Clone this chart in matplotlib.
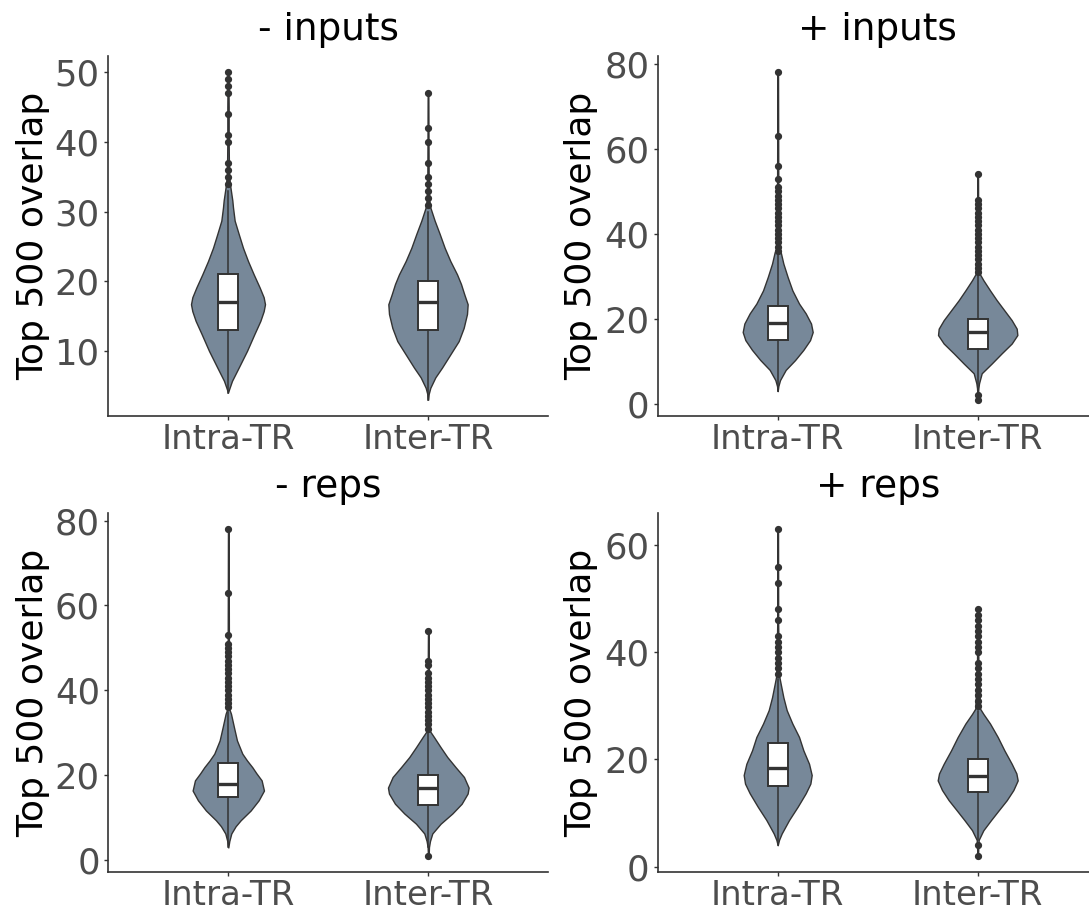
import numpy as np
import matplotlib
matplotlib.use("Agg")
import matplotlib.pyplot as plt

# ---------------- data ----------------
categories = ["Intra-TR", "Inter-TR"]
panel_titles = ["- inputs", "+ inputs", "- reps", "+ reps"]
ylabel = "Top 500 overlap"
yticks = [[10, 20, 30, 40, 50], [0, 20, 40, 60, 80], [0, 20, 40, 60, 80], [0, 20, 40, 60]]

# violin density profiles (y levels, relative density) per panel / category
p1_intra_y = [4, 4.6, 5.7, 7.6, 10, 12.4, 14.3, 15.7, 16.7, 17.7, 19.1, 21.0, 22.9, 24.8, 26.8, 28.7, 30.6, 31.6, 33.9, 35.4, 40, 45, 50]
p1_intra_d = [0, 4, 12, 32, 57, 79, 97, 107, 111, 107, 95, 77, 60, 45, 32, 20, 15, 13, 6, 3, 2, 2, 1]
p1_inter_y = [3, 3.8, 4.7, 6.2, 7.6, 9.5, 11.4, 13.3, 15.3, 16.7, 18.1, 19.6, 21.0, 22.9, 24.8, 26.8, 28.7, 30.6, 31.6, 34, 40, 47]
p1_inter_d = [0.5, 2, 7, 22, 42, 67, 92, 107, 117, 119, 109, 99, 87, 67, 50, 35, 20, 7, 4, 2, 1.5, 1]

p2_intra_y = [3, 4.2, 5.6, 8.0, 10.3, 12.7, 15.0, 16.9, 18.9, 21.3, 23.6, 26.7, 29.8, 33.0, 35.7, 36.5, 45, 60, 78]
p2_intra_d = [0, 2, 7, 24, 52, 77, 97, 105, 100, 84, 64, 44, 30, 17, 9, 4, 2, 1.5, 1]
p2_inter_y = [1, 3, 3.7, 4.85, 7.2, 9.5, 11.9, 14.2, 16.2, 17.7, 19.7, 22.0, 24.4, 26.7, 29.1, 30.6, 40, 54]
p2_inter_d = [1, 1.5, 2, 4, 12, 42, 72, 102, 119, 117, 102, 80, 57, 37, 17, 6, 1.5, 1]

p3_intra_y = [3, 4.5, 6.3, 8.0, 9.4, 11.7, 14.1, 16.4, 18.8, 20.5, 21.9, 23.5, 25.1, 28.2, 31.3, 34.5, 35.6, 45, 60, 78]
p3_intra_d = [0, 3, 9, 22, 37, 67, 91, 107, 100, 84, 72, 56, 42, 26, 17, 8, 3, 2, 1.5, 1]
p3_inter_y = [1, 3.1, 4.5, 6.3, 8.6, 11.0, 13.3, 15.7, 17.1, 19.6, 21.9, 24.3, 26.6, 29.0, 30.4, 40, 54]
p3_inter_d = [1, 2, 5, 12, 37, 72, 100, 118, 121, 107, 82, 57, 37, 17, 5, 2, 1]

p4_intra_y = [4, 5.0, 6.2, 8.7, 11.2, 13.7, 15.5, 17.1, 19.2, 21.7, 24.2, 26.7, 29.2, 31.6, 34.1, 35.7, 45, 63]
p4_intra_d = [0, 4, 12, 34, 60, 84, 98, 102, 94, 77, 64, 44, 27, 17, 9, 4, 1.5, 1]
p4_inter_y = [2, 4, 5.0, 6.8, 8.7, 10.6, 12.4, 14.3, 16.1, 17.4, 19.2, 21.7, 24.2, 26.7, 28.5, 29.5, 38, 48]
p4_inter_d = [1, 2, 3, 17, 40, 64, 87, 107, 120, 116, 102, 80, 60, 37, 17, 7, 2, 1]

# box statistics: q1, median, q3, lower whisker, upper whisker
p1_intra_box = [13, 17, 21, 4, 33]
p1_inter_box = [13, 17, 20, 3, 30]
p2_intra_box = [15, 19, 23, 3, 35]
p2_inter_box = [13, 17, 20, 3, 30]
p3_intra_box = [15, 18, 23, 3, 35]
p3_inter_box = [13, 17, 20, 3, 30]
p4_intra_box = [15, 18.5, 23, 4, 35]
p4_inter_box = [14, 17, 20, 5, 29]

# outliers
p1_intra_out = [34, 35, 36, 37, 40, 41, 44, 47, 48, 49, 50]
p1_inter_out = [31, 32, 33, 34, 35, 37, 40, 42, 47]
p2_intra_out = [36, 37, 38, 39, 40, 41, 42, 43, 44, 45, 46, 47, 48, 49, 50, 51, 53, 56, 63, 78]
p2_inter_out = [1, 2, 31, 32, 33, 34, 35, 36, 37, 38, 39, 40, 41, 42, 43, 44, 45, 46, 47, 48, 54]
p3_intra_out = [36, 37, 38, 39, 40, 41, 42, 43, 44, 45, 46, 47, 48, 49, 50, 51, 53, 63, 78]
p3_inter_out = [1, 31, 32, 33, 34, 35, 36, 37, 38, 39, 40, 41, 42, 43, 44, 46, 47, 54]
p4_intra_out = [36, 37, 38, 39, 40, 41, 42, 43, 46, 48, 53, 56, 63]
p4_inter_out = [2, 4, 30, 31, 32, 33, 34, 35, 36, 37, 38, 40, 41, 42, 43, 44, 45, 46, 47, 48]

panels = [
    [(p1_intra_y, p1_intra_d, p1_intra_box, p1_intra_out), (p1_inter_y, p1_inter_d, p1_inter_box, p1_inter_out)],
    [(p2_intra_y, p2_intra_d, p2_intra_box, p2_intra_out), (p2_inter_y, p2_inter_d, p2_inter_box, p2_inter_out)],
    [(p3_intra_y, p3_intra_d, p3_intra_box, p3_intra_out), (p3_inter_y, p3_inter_d, p3_inter_box, p3_inter_out)],
    [(p4_intra_y, p4_intra_d, p4_intra_box, p4_intra_out), (p4_inter_y, p4_inter_d, p4_inter_box, p4_inter_out)],
]

# ---------------- styling / layout ----------------
W, H = 1089, 909
FILL = "#778899"
DARK = "#333333"
TICKGRAY = "#4D4D4D"
DENS_TO_WIDTH = 1.0 / 600.0   # density units -> x data units (half width)
BOX_W = 0.1

plt.rcParams["font.family"] = ["DejaVu Sans"]
fig = plt.figure(figsize=(W / 100, H / 100), dpi=100)

# axes rectangles in pixels: left, right, top, bottom
rects = [(108, 548, 56, 416), (657.7, 1097.7, 56, 416),
         (108.3, 548.3, 512.7, 872.3), (657.7, 1097.7, 512.7, 872.3)]

for i, (pan, rect) in enumerate(zip(panels, rects)):
    l, r, t, b = rect
    ax = fig.add_axes([l / W, 1 - b / H, (r - l) / W, (b - t) / H])
    positions = [1, 2]
    allvals = []
    for pos, (vy, vd, box, out) in zip(positions, pan):
        vy = np.asarray(vy, float)
        vd = np.asarray(vd, float)
        stats = [dict(coords=vy, vals=vd, mean=np.nan, median=box[1], min=vy.min(), max=vy.max())]
        parts = ax.violin(stats, positions=[pos], widths=[2 * vd.max() * DENS_TO_WIDTH],
                          showmeans=False, showextrema=False, showmedians=False)
        for pc in parts["bodies"]:
            pc.set_facecolor(FILL)
            pc.set_edgecolor(DARK)
            pc.set_linewidth(1.0)
            pc.set_alpha(1)
            pc.set_zorder(1)
            pc.set_joinstyle("round")
        q1, med, q3, wlo, whi = box
        bstats = [dict(q1=q1, med=med, q3=q3, whislo=wlo, whishi=whi, fliers=out)]
        ax.bxp(bstats, positions=[pos], widths=BOX_W, patch_artist=True, showcaps=False,
               manage_ticks=False,
               boxprops=dict(facecolor="white", edgecolor=DARK, linewidth=1.4),
               medianprops=dict(color=DARK, linewidth=2.4),
               whiskerprops=dict(color=DARK, linewidth=1.1),
               flierprops=dict(marker="o", markerfacecolor=DARK, markeredgecolor=DARK,
                               markersize=4.2, linestyle="none"), zorder=3)
        allvals += list(vy) + list(out)
    lo, hi = min(allvals), max(allvals)
    rng = hi - lo
    ax.set_ylim(lo - 0.05 * rng, hi + 0.05 * rng)
    ax.set_xlim(0.4, 2.6)
    ax.set_xticks(positions)
    ax.set_xticklabels(categories)
    ax.set_yticks(yticks[i])
    for s in ["top", "right"]:
        ax.spines[s].set_visible(False)
    for s in ["left", "bottom"]:
        ax.spines[s].set_color(DARK)
        ax.spines[s].set_linewidth(1.2)
    ax.tick_params(axis="y", labelsize=25.5, colors=DARK, labelcolor=TICKGRAY, length=3, width=1, pad=3)
    ax.tick_params(axis="x", labelsize=24.5, colors=DARK, labelcolor=TICKGRAY, length=3, width=1, pad=2)
    ax.set_title(panel_titles[i], fontsize=27, color="black", pad=11.5)
    ax.set_ylabel(ylabel, fontsize=26, color="black")
    ax.yaxis.set_label_coords((50 if i % 2 == 0 else 598) / 440 - l / 440, 0.5)

fig.savefig("out.png", dpi=100)
